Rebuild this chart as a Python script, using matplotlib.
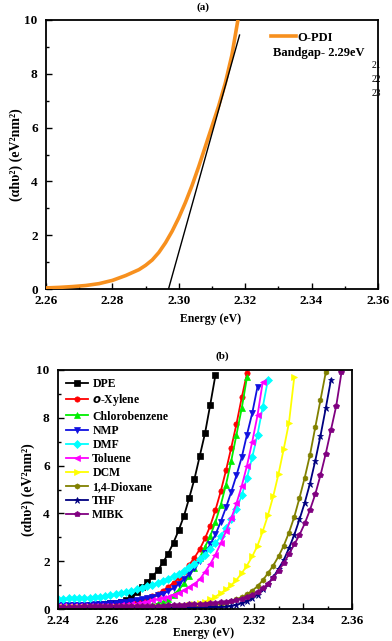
import numpy as np
import matplotlib
matplotlib.use("Agg")
import matplotlib.pyplot as plt
from matplotlib.ticker import MultipleLocator, FormatStrFormatter

plt.rcParams['font.family'] = ['Liberation Serif', 'DejaVu Serif']
plt.rcParams['font.weight'] = 'bold'

# ---------------- panel (a) data ----------------
opdi_energy = [2.260, 2.264, 2.268, 2.272, 2.276, 2.280, 2.284, 2.288, 2.290, 2.292,
               2.294, 2.296, 2.298, 2.300, 2.302, 2.304, 2.306, 2.308, 2.310, 2.312,
               2.314, 2.316, 2.3178]
opdi_values = [0.04, 0.06, 0.09, 0.13, 0.20, 0.32, 0.50, 0.72, 0.88, 1.08,
               1.36, 1.72, 2.15, 2.65, 3.22, 3.85, 4.55, 5.30, 6.05, 6.80,
               7.65, 8.70, 10.0]
fit_energy = [2.2969, 2.3183]
fit_values = [0.0, 9.44]

# ---------------- panel (b) data ----------------
energy = np.linspace(2.24, 2.36, 57)  # measurement grid

solvents = ['DPE', 'o-Xylene', 'Chlorobenzene', 'NMP', 'DMF', 'Toluene',
            'DCM', '1,4-Dioxane', 'THF', 'MIBK']
labels = ['DPE', r'$\mathbfit{o}$-Xylene', 'Chlorobenzene', 'NMP', 'DMF', 'Toluene',
          'DCM', '1,4-Dioxane', 'THF', 'MIBK']
colors = ['#000000', '#ff0000', '#00ee00', '#1010e0', '#00ffff', '#ff00ff',
          '#ffff00', '#808000', '#000080', '#800080']
markers = ['s', 'o', '^', 'v', 'D', '<', '>', 'h', '*', 'p']

dpe = [0.08, 0.09, 0.10, 0.11, 0.12, 0.13, 0.15, 0.17, 0.19, 0.21,
       0.24, 0.27, 0.31, 0.38, 0.50, 0.70, 0.90, 1.12, 1.36, 1.62,
       1.95, 2.32, 2.78, 3.30, 3.90, 4.65, 5.45, 6.40, 7.35, 8.55, 9.80]
oxylene = [0.12, 0.12, 0.12, 0.13, 0.13, 0.13, 0.13, 0.14, 0.14, 0.15,
           0.16, 0.17, 0.19, 0.22, 0.26, 0.31, 0.37, 0.44, 0.53, 0.64,
           0.77, 0.92, 1.10, 1.30, 1.55, 1.85, 2.15, 2.50, 2.95, 3.48,
           4.15, 4.92, 5.80, 6.75, 7.75, 8.85, 9.86]
chlorobenzene = [0.10, 0.10, 0.10, 0.10, 0.10, 0.10, 0.10, 0.10, 0.10, 0.10,
                 0.10, 0.10, 0.10, 0.10, 0.11, 0.11, 0.12, 0.14, 0.17, 0.22,
                 0.30, 0.42, 0.60, 0.80, 1.07, 1.40, 1.73, 2.15, 2.60, 3.05,
                 3.65, 4.35, 5.20, 6.20, 7.30, 8.40, 9.70]
nmp = [0.16, 0.16, 0.16, 0.16, 0.16, 0.17, 0.18, 0.19, 0.20, 0.22,
       0.24, 0.26, 0.28, 0.31, 0.34, 0.37, 0.41, 0.46, 0.51, 0.57,
       0.64, 0.74, 0.87, 1.05, 1.25, 1.47, 1.72, 2.02, 2.35, 2.70,
       3.12, 3.65, 4.25, 4.90, 5.60, 6.35, 7.30, 8.20, 9.30]
dmf = [0.42, 0.43, 0.44, 0.45, 0.46, 0.47, 0.48, 0.50, 0.52, 0.55,
       0.58, 0.61, 0.65, 0.70, 0.76, 0.82, 0.88, 0.95, 1.02, 1.10,
       1.18, 1.27, 1.37, 1.48, 1.60, 1.74, 1.90, 2.08, 2.28, 2.50,
       2.75, 3.05, 3.38, 3.75, 4.20, 4.75, 5.50, 6.35, 7.30, 8.45, 9.60]
toluene = [0.12, 0.12, 0.12, 0.12, 0.12, 0.12, 0.12, 0.12, 0.13, 0.13,
           0.13, 0.14, 0.15, 0.17, 0.19, 0.22, 0.26, 0.31, 0.36, 0.41,
           0.46, 0.52, 0.60, 0.68, 0.78, 0.90, 1.05, 1.24, 1.55, 1.88,
           2.28, 2.75, 3.25, 3.80, 4.42, 5.15, 6.00, 7.00, 8.10, 9.50]
dcm = [0.08, 0.08, 0.08, 0.08, 0.08, 0.08, 0.08, 0.08, 0.08, 0.08,
       0.08, 0.08, 0.08, 0.08, 0.08, 0.08, 0.08, 0.08, 0.08, 0.08,
       0.08, 0.08, 0.08, 0.10, 0.12, 0.15, 0.19, 0.24, 0.31, 0.40,
       0.52, 0.66, 0.82, 1.00, 1.22, 1.50, 1.82, 2.20, 2.65, 3.25,
       3.93, 4.72, 5.65, 6.70, 7.80, 9.70]
dioxane = [0.08, 0.08, 0.08, 0.08, 0.08, 0.08, 0.08, 0.08, 0.08, 0.08,
           0.08, 0.08, 0.08, 0.08, 0.08, 0.08, 0.08, 0.08, 0.08, 0.08,
           0.08, 0.08, 0.08, 0.08, 0.08, 0.08, 0.08, 0.10, 0.12, 0.14,
           0.17, 0.21, 0.26, 0.32, 0.40, 0.50, 0.62, 0.77, 0.95, 1.20,
           1.50, 1.82, 2.20, 2.65, 3.20, 3.85, 4.65, 5.50, 6.45, 7.60,
           8.75, 9.90]
thf = [0.06, 0.06, 0.06, 0.06, 0.06, 0.06, 0.06, 0.06, 0.06, 0.06,
       0.06, 0.06, 0.06, 0.06, 0.06, 0.06, 0.06, 0.06, 0.06, 0.06,
       0.06, 0.06, 0.06, 0.06, 0.06, 0.06, 0.06, 0.06, 0.06, 0.07,
       0.07, 0.08, 0.10, 0.13, 0.18, 0.24, 0.33, 0.45, 0.60, 0.82,
       1.05, 1.33, 1.68, 2.05, 2.55, 3.10, 3.75, 4.45, 5.25, 6.20,
       7.25, 8.40, 9.60]
mibk = [0.10, 0.10, 0.10, 0.10, 0.10, 0.11, 0.11, 0.11, 0.11, 0.11,
        0.12, 0.12, 0.12, 0.12, 0.12, 0.12, 0.12, 0.12, 0.13, 0.13,
        0.14, 0.15, 0.16, 0.17, 0.18, 0.19, 0.20, 0.21, 0.22, 0.24,
        0.26, 0.28, 0.31, 0.34, 0.38, 0.43, 0.50, 0.60, 0.72, 0.87,
        1.05, 1.30, 1.60, 1.92, 2.30, 2.70, 3.10, 3.58, 4.15, 4.80,
        5.60, 6.50, 7.50, 8.50, 9.90]
series = [dpe, oxylene, chlorobenzene, nmp, dmf, toluene, dcm, dioxane, thf, mibk]

W, H = 392, 641
fig = plt.figure(figsize=(W / 100, H / 100), dpi=100)

def style_axes(ax, xmin, xmax):
    ax.set_xlim(xmin, xmax)
    ax.set_ylim(0, 10)
    ax.xaxis.set_major_locator(MultipleLocator(0.02))
    ax.xaxis.set_minor_locator(MultipleLocator(0.01))
    ax.yaxis.set_major_locator(MultipleLocator(2))
    ax.yaxis.set_minor_locator(MultipleLocator(1))
    ax.tick_params(which='both', direction='in', top=False, right=False,
                   labelsize=9.5, width=1.0)
    ax.tick_params(axis='x', pad=4.5)
    ax.tick_params(axis='y', pad=6)
    ax.tick_params(which='major', length=4)
    ax.tick_params(which='minor', length=2)
    for s in ax.spines.values():
        s.set_linewidth(1.3)
    ax.xaxis.set_major_formatter(FormatStrFormatter('%.2f'))
    for lab in ax.get_xticklabels() + ax.get_yticklabels():
        lab.set_fontweight('bold')

ylabel = '(αhυ²) (eV²nm²)'

# ---- panel (a) ----
axa = fig.add_axes([46 / W, 1 - 289 / H, 332 / W, 269 / H])
axa.plot(opdi_energy, opdi_values, color='#f7901e', lw=2.6, label='O-PDI', zorder=3)
axa.plot(fit_energy, fit_values, color='black', lw=1.0, zorder=4)
style_axes(axa, 2.26, 2.36)
axa.set_ylabel(ylabel, fontsize=10, fontweight='bold', labelpad=1)
axa.legend(loc='upper left', bbox_to_anchor=(0.655, 0.985), frameon=False,
           handlelength=2.0, handletextpad=0.1, borderaxespad=0.2,
           prop={'weight': 'bold', 'size': 9})
fig.text(273 / W, 1 - 53 / H, 'Bandgap- 2.29eV', fontsize=9, fontweight='bold',
         ha='left', va='center')
for i, t in enumerate(['21', '22', '23']):
    fig.text(372 / W, 1 - (66 + 14 * i) / H, t, fontsize=7, fontweight='normal',
             ha='left', va='center')
fig.text(203 / W, 1 - 7 / H, '(a)', fontsize=8, fontweight='bold', ha='center', va='center')
fig.text(211 / W, 1 - 319 / H, 'Energy (eV)', fontsize=8.5, fontweight='bold',
         ha='center', va='center')

# ---- panel (b) ----
axb = fig.add_axes([58 / W, 1 - 609 / H, 294 / W, 239 / H])
for name, lab, c, m, y in zip(solvents, labels, colors, markers, series):
    ms = 5 if m == '*' else 3.8
    axb.plot(energy[:len(y)], y, color=c, marker=m, ms=ms, lw=1.3,
             markeredgewidth=0.5, label=lab)
style_axes(axb, 2.24, 2.36)
axb.set_ylabel(ylabel, fontsize=10, fontweight='bold', labelpad=1)
axb.legend(loc='upper left', bbox_to_anchor=(0.0, 1.0), frameon=False,
           handlelength=1.8, handletextpad=0.4, labelspacing=0.18,
           borderaxespad=0.3, markerscale=1.0,
           prop={'weight': 'bold', 'size': 8.5})
fig.text(222 / W, 1 - 356 / H, '(b)', fontsize=8, fontweight='bold', ha='center', va='center')
fig.text(204 / W, 1 - 633 / H, 'Energy (eV)', fontsize=8.5, fontweight='bold',
         ha='center', va='center')

fig.savefig('out.png', dpi=100)
